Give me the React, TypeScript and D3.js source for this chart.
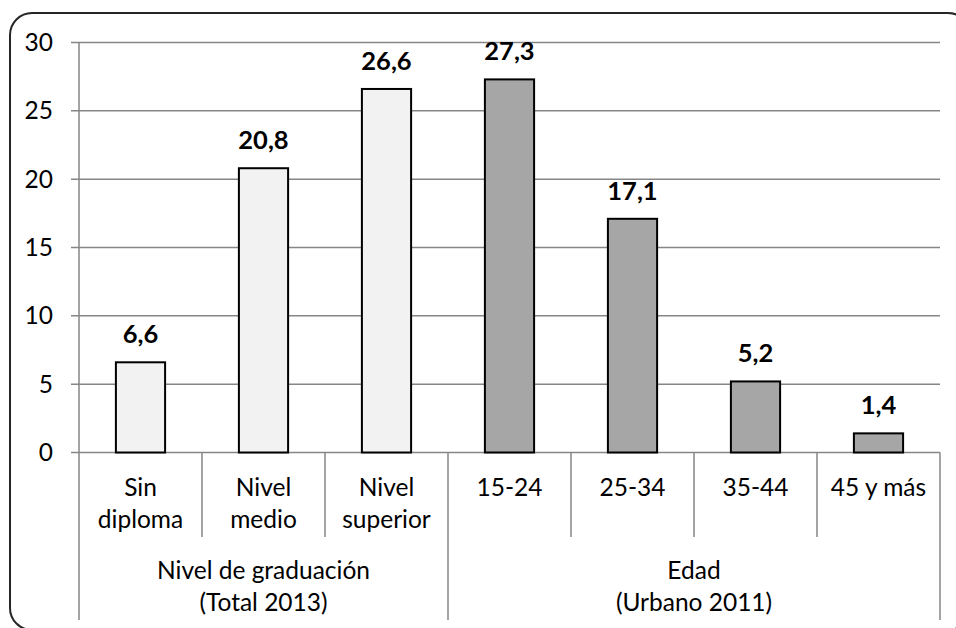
import React from "react";
import * as d3 from "d3";

// Categories (each label may wrap onto two lines) and their values
const categories = ["Sin diploma", "Nivel medio", "Nivel superior", "15-24", "25-34", "35-44", "45 y más"];
const categoryLines = [["Sin", "diploma"], ["Nivel", "medio"], ["Nivel", "superior"], ["15-24"], ["25-34"], ["35-44"], ["45 y más"]];
const values = [6.6, 20.8, 26.6, 27.3, 17.1, 5.2, 1.4];
const valueLabels = ["6,6", "20,8", "26,6", "27,3", "17,1", "5,2", "1,4"];
const groupOf = [0, 0, 0, 1, 1, 1, 1];
const groups = [["Nivel de graduación", "(Total 2013)"], ["Edad", "(Urbano 2011)"]];
const groupFills = ["#f2f2f2", "#a6a6a6"];
const yTicks = [0, 5, 10, 15, 20, 25, 30];

const W = 956;
const H = 628;
const left = 79;
const right = 940;
const top = 42.5;
const bottom = 452.5;
const FONT = "Lato, 'Open Sans', sans-serif";
const GRID = "#868686";
const FS = 24.5;

export default function App() {
  const x = d3.scaleBand<string>().domain(categories).range([left, right]).paddingInner(0.6).paddingOuter(0.3);
  const y = d3.scaleLinear().domain([0, 30]).range([bottom, top]);
  const step = x.step();
  const bw = x.bandwidth();

  // boundaries between categories; group boundaries are drawn longer
  const bounds = d3.range(categories.length + 1).map((i) => left + i * step);
  const groupBounds = new Set<number>([0, categories.length]);
  groupOf.forEach((g, i) => {
    if (i > 0 && g !== groupOf[i - 1]) groupBounds.add(i);
  });

  const groupSpans = groups.map((_, g) => {
    const idx = groupOf.map((v, i) => (v === g ? i : -1)).filter((i) => i >= 0);
    return [left + idx[0] * step, left + (idx[idx.length - 1] + 1) * step];
  });

  return (
    <svg width={W} height={H} style={{ position: "absolute", left: 0, top: 0, background: "#fff" }}>
      <rect x={10} y={13} width={960} height={617} rx={22} ry={22} fill="#fff" stroke="#262626" strokeWidth={2} />

      {yTicks.map((t) => (
        <g key={t}>
          <line x1={left - 8} x2={right} y1={y(t)} y2={y(t)} stroke={GRID} strokeWidth={1.5} />
          <text x={53} y={y(t)} dy="0.35em" textAnchor="end" fontFamily={FONT} fontSize={FS} fill="#000">
            {t}
          </text>
        </g>
      ))}

      {/* vertical axis line */}
      <line x1={left} x2={left} y1={top} y2={bottom} stroke={GRID} strokeWidth={1.5} />

      {/* category and group separators below the axis */}
      {bounds.map((bx, i) => (
        <line key={i} x1={bx} x2={bx} y1={bottom} y2={groupBounds.has(i) ? 620 : 537} stroke={GRID} strokeWidth={1.5} />
      ))}

      {categories.map((c, i) => (
        <g key={c}>
          <rect
            x={x(c)}
            y={y(values[i])}
            width={bw}
            height={y(0) - y(values[i])}
            fill={groupFills[groupOf[i]]}
            stroke="#000"
            strokeWidth={2}
          />
          <text
            x={(x(c) as number) + bw / 2}
            y={y(values[i]) - 19}
            textAnchor="middle"
            fontFamily={FONT}
            fontWeight="bold"
            fontSize={25.5}
            fill="#000"
          >
            {valueLabels[i]}
          </text>
          {categoryLines[i].map((ln, k) => (
            <text
              key={k}
              x={(x(c) as number) + bw / 2}
              y={496 + k * 32}
              textAnchor="middle"
              fontFamily={FONT}
              fontSize={FS}
              fill="#000"
            >
              {ln}
            </text>
          ))}
        </g>
      ))}

      {groups.map((g, gi) => (
        <g key={gi}>
          {g.map((ln, k) => (
            <text
              key={k}
              x={(groupSpans[gi][0] + groupSpans[gi][1]) / 2}
              y={579 + k * 32}
              textAnchor="middle"
              fontFamily={FONT}
              fontSize={FS}
              fill="#000"
            >
              {ln}
            </text>
          ))}
        </g>
      ))}
    </svg>
  );
}
